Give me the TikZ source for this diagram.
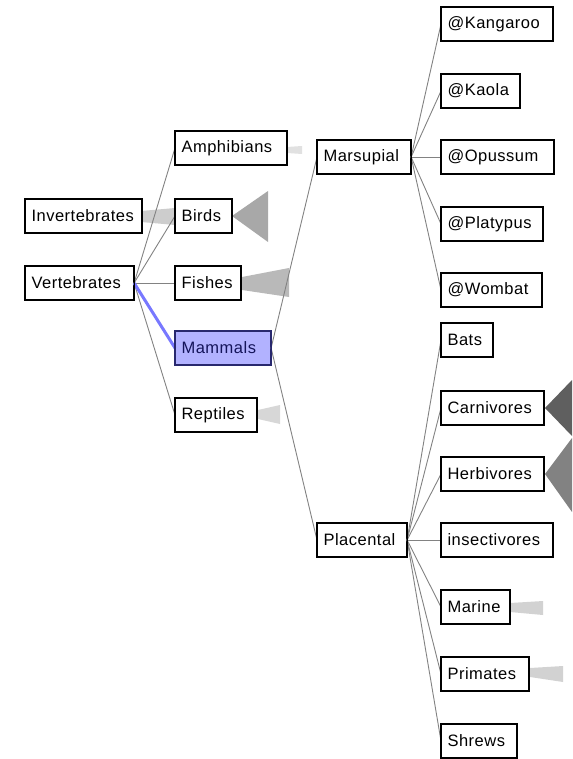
\documentclass[tikz,border=0pt]{standalone}
\usepackage{fontspec}
\setmainfont{Liberation Sans}
\newfontfamily\boxfont[LetterSpace=3]{Liberation Sans}
\definecolor{edgegray}{RGB}{130,130,130}
\definecolor{selfill}{RGB}{178,178,255}
\definecolor{seldraw}{RGB}{40,40,110}
\definecolor{seltext}{RGB}{20,20,90}
\definecolor{seledgec}{RGB}{120,120,255}
\definecolor{carn}{RGB}{95,95,95}
\definecolor{herb}{RGB}{130,130,130}
\definecolor{birdc}{RGB}{168,168,168}
\definecolor{fishc}{RGB}{185,185,185}
\definecolor{invc}{RGB}{205,205,205}
\definecolor{ampc}{RGB}{225,225,225}
\definecolor{repc}{RGB}{215,215,215}
\definecolor{mrc}{RGB}{210,210,210}
\begin{document}
\begin{tikzpicture}[x=1pt,y=-1pt,
  box/.style={draw=black,line width=1.1pt,fill=white,anchor=west,minimum height=34pt,
    inner xsep=6pt,inner ysep=0pt,align=left,
    font=\boxfont\fontsize{16.5}{18}\selectfont},
  bw/.style={minimum width=#1pt,text width=#1pt-12pt},
  sel/.style={box,fill=selfill,draw=seldraw,text=seltext},
  edge/.style={draw=edgegray,line width=0.9pt},
  seledge/.style={draw=seledgec,line width=3pt},
  frame/.style={line width=1.1pt},
]
\useasboundingbox (0,0) rectangle (572,759);
% collapsed-subtree indicators
\fill[invc] (141,211) -- (175,208) -- (175,225) -- (141,222) -- cycle;
\fill[ampc] (287,147) -- (302,146) -- (302,154) -- (287,153) -- cycle;
\fill[birdc] (232,216) -- (268,191) -- (268,242) -- cycle;
\fill[fishc] (242,277) -- (289,268) -- (289,297) -- (242,290) -- cycle;
\fill[repc] (258,410) -- (280,405) -- (280,424) -- (258,419) -- cycle;
\fill[carn] (545,408) -- (572,380) -- (572,436) -- cycle;
\fill[herb] (545,474) -- (572,438) -- (572,512) -- cycle;
\fill[mrc] (510,603) -- (543,601) -- (543,615) -- (510,612) -- cycle;
\fill[mrc] (530,668) -- (563,666) -- (563,682) -- (530,677) -- cycle;
% nodes
\path
  (25,216)  node[box,bw=116] (inv) {Invertebrates}
  (25,283)  node[box,bw=108] (ver) {Vertebrates}
  (175,148) node[box,bw=111] (amp) {Amphibians}
  (175,216) node[box,bw=56]  (bir) {Birds}
  (175,283) node[box,bw=65]  (fis) {Fishes}
  (175,348) node[sel,bw=95]  (mam) {Mammals}
  (175,415) node[box,bw=81]  (rep) {Reptiles}
  (317,157) node[box,bw=93]  (mar) {Marsupial}
  (317,540) node[box,bw=89]  (pla) {Placental}
  (441,24)  node[box,bw=111] (kan) {@Kangaroo}
  (441,91)  node[box,bw=78]  (kao) {@Kaola}
  (441,157) node[box,bw=112] (opu) {@Opussum}
  (441,224) node[box,bw=101] (pl)  {@Platypus}
  (441,290) node[box,bw=100] (wom) {@Wombat}
  (441,340) node[box,bw=51]  (bat) {Bats}
  (441,408) node[box,bw=102] (car) {Carnivores}
  (441,474) node[box,bw=102] (her) {Herbivores}
  (441,540) node[box,bw=111] (ins) {insectivores}
  (441,607) node[box,bw=68]  (mri) {Marine}
  (441,674) node[box,bw=87]  (pri) {Primates}
  (441,741) node[box,bw=75]  (shr) {Shrews};
% connectors
\foreach \c in {amp,bir,fis,rep} \draw[edge] (ver.east) -- (\c.west);
\draw[seledge] (ver.east) -- (mam.west);
\draw[edge] (mam.east) -- (mar.west);
\draw[edge] (mam.east) -- (pla.west);
\foreach \c in {kan,kao,opu,pl,wom} \draw[edge] (mar.east) -- (\c.west);
\foreach \c in {bat,car,her,ins,mri,pri,shr} \draw[edge] (pla.east) -- (\c.west);
% frames redrawn on top of the connector ends
\foreach \n in {inv,ver,amp,bir,fis,rep,mar,pla,kan,kao,opu,pl,wom,bat,car,her,ins,mri,pri,shr}
  \draw[frame] (\n.north west) rectangle (\n.south east);
\draw[frame,seldraw] (mam.north west) rectangle (mam.south east);
\end{tikzpicture}
\end{document}
